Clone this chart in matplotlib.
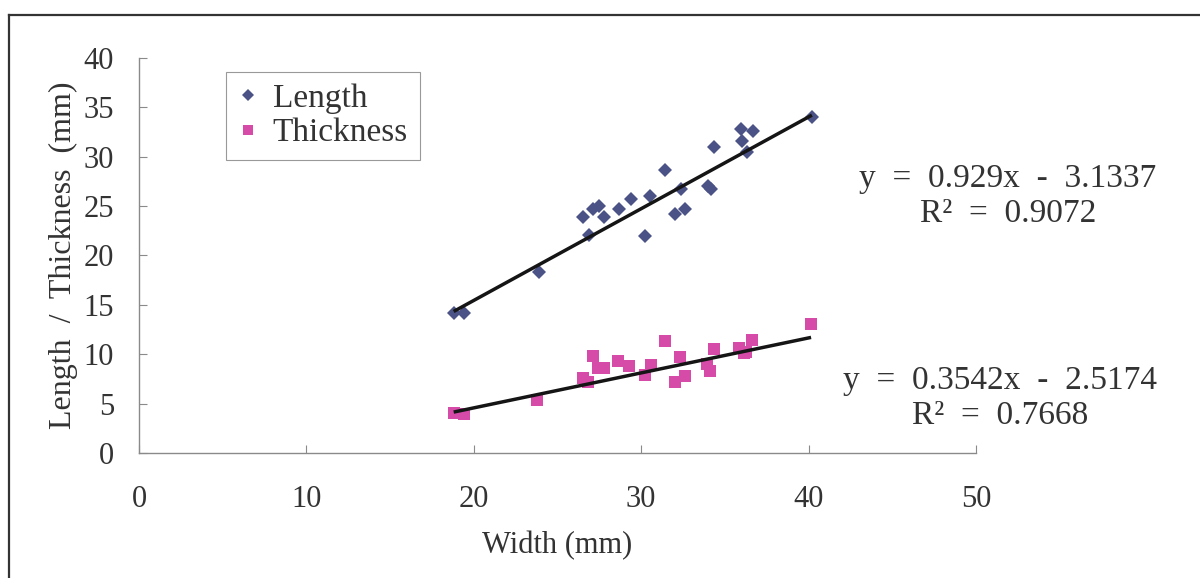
import matplotlib
matplotlib.use("Agg")
import matplotlib.pyplot as plt
from matplotlib.lines import Line2D
import numpy as np

# Data
width_mm = [18.8, 19.4, 23.9, 26.5, 26.9, 27.1, 27.5, 27.8, 28.7, 29.4, 30.2, 30.5,
            31.4, 32.0, 32.4, 32.6, 34.0, 34.15, 34.35, 35.95, 36.05, 36.35, 36.7, 40.2]
length_mm = [14.2, 14.2, 18.35, 23.9, 22.1, 24.7, 25.0, 23.9, 24.7, 25.7, 22.0, 26.0,
             28.7, 24.2, 26.7, 24.7, 27.0, 26.7, 31.0, 32.8, 31.6, 30.5, 32.6, 34.0]
thick_width_mm = [18.8, 19.4, 23.8, 26.5, 26.8, 27.1, 27.4, 27.8, 28.6, 29.3, 30.2, 30.6,
                  31.4, 32.0, 32.3, 32.6, 33.95, 34.1, 34.35, 35.85, 36.15, 36.25, 36.6, 40.15]
thickness_mm = [4.0, 3.9, 5.4, 7.6, 7.2, 9.8, 8.6, 8.6, 9.3, 8.85, 7.9, 8.9,
                11.3, 7.2, 9.7, 7.8, 9.0, 8.3, 10.5, 10.6, 10.1, 10.2, 11.4, 13.1]

length_fit = (0.929, -3.1337, 0.9072)
thick_fit = (0.3542, -2.5174, 0.7668)

plt.rcParams["font.family"] = ["Liberation Serif", "DejaVu Serif"]

navy = "#4a5286"
magenta = "#d64ba8"
axis_grey = "#8a8a8a"
text_col = "#333333"

fig = plt.figure(figsize=(12, 5.78), dpi=100)
ax = fig.add_axes([0.1158, 0.2163, 0.6975, 0.6834])

ax.plot(width_mm, length_mm, "D", color=navy, markersize=7.2, markeredgewidth=0,
        label="Length", zorder=2)
ax.plot(thick_width_mm, thickness_mm, "s", color=magenta, markersize=8.8, markeredgewidth=0,
        label="Thickness", zorder=2)

# trendlines from the fitted coefficients
for xs, (m, b, r2) in [(width_mm, length_fit), (thick_width_mm, thick_fit)]:
    xx = np.array([min(xs), max(xs)])
    ax.plot(xx, m * xx + b, color="#151515", lw=2.5, solid_capstyle="butt", zorder=3)

ax.set_xlim(0, 50)
ax.set_ylim(0, 40)
ax.set_xticks([0, 10, 20, 30, 40, 50])
ax.set_yticks(range(0, 41, 5))

for s in ["top", "right"]:
    ax.spines[s].set_visible(False)
for s in ["left", "bottom"]:
    ax.spines[s].set_color(axis_grey)
    ax.spines[s].set_linewidth(1.0)

ax.tick_params(direction="in", length=6, width=0.8, color=axis_grey,
               labelsize=22, labelcolor=text_col)
ax.tick_params(axis="y", pad=18)
ax.tick_params(axis="x", pad=23)

ax.set_xlabel("Width (mm)", fontsize=22, color=text_col, labelpad=12)
ax.set_ylabel("Length  /  Thickness  (mm)", fontsize=23, color=text_col, labelpad=4)

leg = ax.legend(loc="upper left", bbox_to_anchor=(0.104, 0.965), borderaxespad=0,
                fontsize=24, frameon=True, fancybox=False, framealpha=1,
                edgecolor="#999999", markerscale=0.8, handlelength=0.6,
                handletextpad=0.45, borderpad=0.35, labelspacing=0.12)
leg.get_frame().set_linewidth(0.8)
for t in leg.get_texts():
    t.set_color(text_col)

# equation labels placed in figure pixels from the top-left
eqs = [
    (1008, 196, "y  =  0.929x  -  3.1337\nR\u00b2  =  0.9072"),
    (1000, 398, "y  =  0.3542x  -  2.5174\nR\u00b2  =  0.7668"),
]
for px, py, txt in eqs:
    fig.text(px / 1200, 1 - py / 578, txt, fontsize=24, color=text_col,
             ha="center", va="center", multialignment="center", linespacing=1.2)

# outer chart frame (top and left edges visible in the reference)
fig.add_artist(Line2D([9 / 1200, 1.0], [1 - 15 / 578, 1 - 15 / 578],
                      transform=fig.transFigure, color="#333333", lw=1.6))
fig.add_artist(Line2D([9 / 1200, 9 / 1200], [0, 1 - 15 / 578],
                      transform=fig.transFigure, color="#333333", lw=1.6))

fig.savefig("out.png", dpi=100)
